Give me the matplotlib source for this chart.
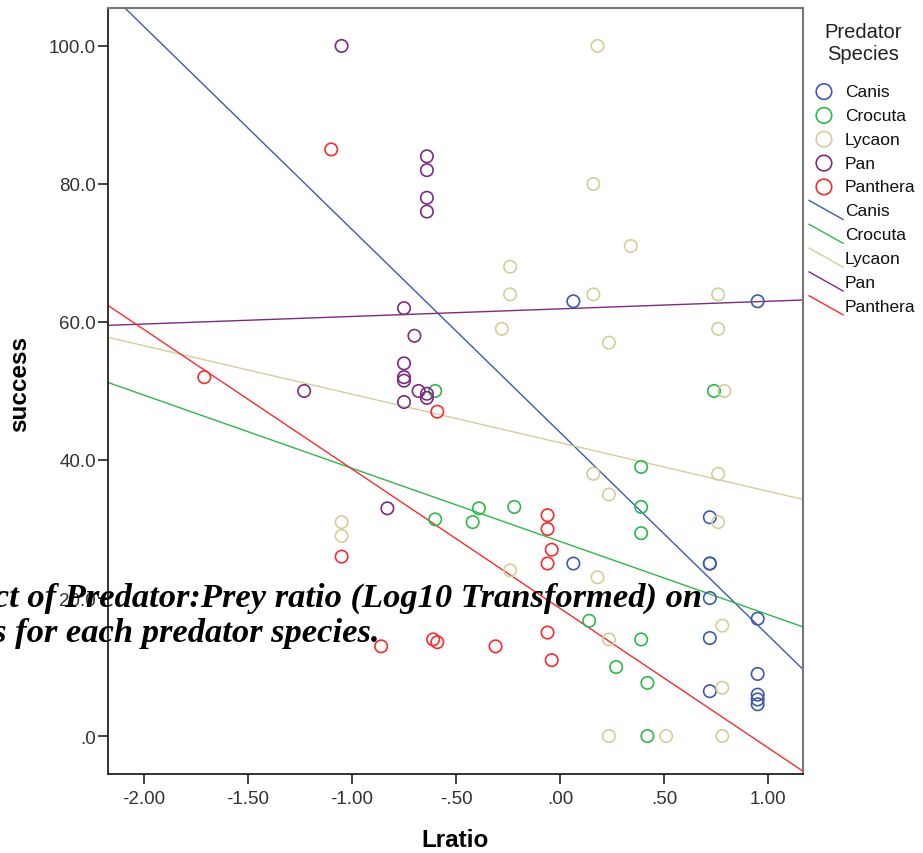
import numpy as np
import matplotlib
matplotlib.use('Agg')
from matplotlib import pyplot as plt
from matplotlib.lines import Line2D
from matplotlib.legend_handler import HandlerBase

plt.rcParams['font.family'] = ['Liberation Sans', 'DejaVu Sans']

species = ['Canis', 'Crocuta', 'Lycaon', 'Pan', 'Panthera']
colors = ['#3d5aad', '#2db84a', '#d4cf98', '#7d2b80', '#fa2a2e']

# Lratio / success, one pair of lists per species
canis_x = [0.064, 0.95, 0.72, 0.064, 0.72, 0.72, 0.72, 0.95, 0.72, 0.95, 0.72, 0.95, 0.95, 0.95]
canis_y = [63, 63, 31.7, 25, 25, 25, 20, 17, 14.2, 9, 6.5, 6, 5.3, 4.6]

crocuta_x = [-0.60, -0.60, -0.42, -0.39, -0.22, 0.14, 0.27, 0.39, 0.39, 0.39, 0.39, 0.42, 0.42, 0.74]
crocuta_y = [50, 31.4, 31, 33, 33.2, 16.7, 10, 39, 33.2, 29.4, 14, 7.7, 0, 50]

lycaon_x = [-1.05, -1.05, -0.28, -0.24, -0.24, -0.24, 0.16, 0.16, 0.18, 0.16, 0.18, 0.235, 0.235,
            0.235, 0.235, 0.34, 0.51, 0.76, 0.76, 0.76, 0.76, 0.79, 0.78, 0.78, 0.78]
lycaon_y = [31, 29, 59, 64, 68, 24, 64, 80, 100, 38, 23, 57, 35, 14, 0, 71, 0, 64, 59, 38, 31, 50, 16, 7, 0]

pan_x = [-1.05, -0.64, -0.64, -0.64, -0.64, -0.75, -0.70, -0.75, -0.75, -0.75, -0.68, -1.23,
         -0.64, -0.64, -0.75, -0.83]
pan_y = [100, 84, 82, 78, 76, 62, 58, 54, 52, 51.5, 50, 50, 49.6, 49, 48.4, 33]

panthera_x = [-1.71, -1.10, -1.05, -0.86, -0.61, -0.59, -0.59, -0.31, -0.06, -0.06, -0.04, -0.06, -0.06, -0.04]
panthera_y = [52, 85, 26, 13, 14, 13.6, 47, 13, 32, 30, 27, 25, 15, 11]

# fitted lines as SPSS drew them (intercept at Lratio=0, slope)
fit_intercept = [44.0, 28.2, 42.5, 61.9, 18.5]
fit_slope = [-29.4, -10.6, -7.03, 1.1, -20.2]

xs = [canis_x, crocuta_x, lycaon_x, pan_x, panthera_x]
ys = [canis_y, crocuta_y, lycaon_y, pan_y, panthera_y]

xticks = [-2.0, -1.5, -1.0, -0.5, 0.0, 0.5, 1.0]
xticklabels = ['-2.00', '-1.50', '-1.00', '-.50', '.00', '.50', '1.00']
yticks = [0, 20, 40, 60, 80, 100]
yticklabels = ['.0', '20.0', '40.0', '60.0', '80.0', '100.0']


class DiagHandler(HandlerBase):
    # SPSS draws the fit-line legend keys as a short slanted stroke
    def create_artists(self, legend, orig_handle, xd, yd, width, height, fontsize, trans):
        ln = Line2D([-xd + 3, width - xd], [height - yd + 2, -yd - 3],
                    color=orig_handle.get_color(), lw=orig_handle.get_linewidth(),
                    transform=trans)
        return [ln]


fig = plt.figure(figsize=(9.23, 8.54), dpi=100)
ax = fig.add_axes([0.117, 0.0925, 0.753, 0.8970])
xmin, xmax = -2.173, 1.168
ax.set_xlim(xmin, xmax)
ax.set_ylim(-5.5, 105.5)

point_handles = []
line_handles = []
xx = np.array([xmin, xmax])
for name, c, x, y in zip(species, colors, xs, ys):
    h = ax.scatter(x, y, s=80, facecolors='none', edgecolors=c, linewidths=1.2, zorder=3, label=name)
    point_handles.append(h)
for name, c, a, b in zip(species, colors, fit_intercept, fit_slope):
    l, = ax.plot(xx, a + b * xx, color=c, lw=1.0, zorder=2, label=name)
    line_handles.append(l)

ax.set_xticks(xticks)
ax.set_xticklabels(xticklabels)
ax.set_yticks(yticks)
ax.set_yticklabels(yticklabels)
ax.tick_params(direction='out', length=7.5, width=1.2, labelsize=13.5, colors='#222222')
ax.tick_params(axis='y', pad=1)
ax.tick_params(axis='x', pad=4)
for t in ax.get_xticklabels() + ax.get_yticklabels():
    t.set_color('#333333')
for s in ['left', 'bottom']:
    ax.spines[s].set_color('#222222')
    ax.spines[s].set_linewidth(1.3)
for s in ['top', 'right']:
    ax.spines[s].set_color('#777777')
    ax.spines[s].set_linewidth(1.5)

ax.set_xlabel('Lratio', fontsize=17.5, fontweight='bold', va='top')
ax.xaxis.set_label_coords(0.5, -0.070)
ax.set_ylabel('success', fontsize=17.5, fontweight='bold')
ax.yaxis.set_label_coords(-0.110, 0.51)

# legend title sits apart from the entries, as in the SPSS output
fig.text(863 / 923, 1 - 44 / 854, 'Predator\nSpecies', ha='center', va='center',
         fontsize=14.5, color='#222222', linespacing=1.2)

handler_map = {h: DiagHandler() for h in line_handles}
leg = fig.legend(point_handles + line_handles, species + species,
                 loc='upper left', bbox_to_anchor=(0.872, 1 - 85 / 854), frameon=False,
                 fontsize=12.5, handlelength=2.2, handletextpad=0.1, labelspacing=0.50,
                 borderaxespad=0, borderpad=0, markerscale=1.25, handler_map=handler_map)
for t in leg.get_texts():
    t.set_color('#111111')

cap = dict(fontsize=24.8, fontweight='bold', fontstyle='italic',
           family=['Liberation Serif', 'DejaVu Serif'], color='black', zorder=10)
fig.text(702 / 923, 1 - 607 / 854, 'Effect of Predator:Prey ratio (Log10 Transformed) on',
         ha='right', va='baseline', **cap)
fig.text(380 / 923, 1 - 642 / 854, 'success for each predator species.',
         ha='right', va='baseline', **cap)

fig.savefig('out.png', dpi=100)
